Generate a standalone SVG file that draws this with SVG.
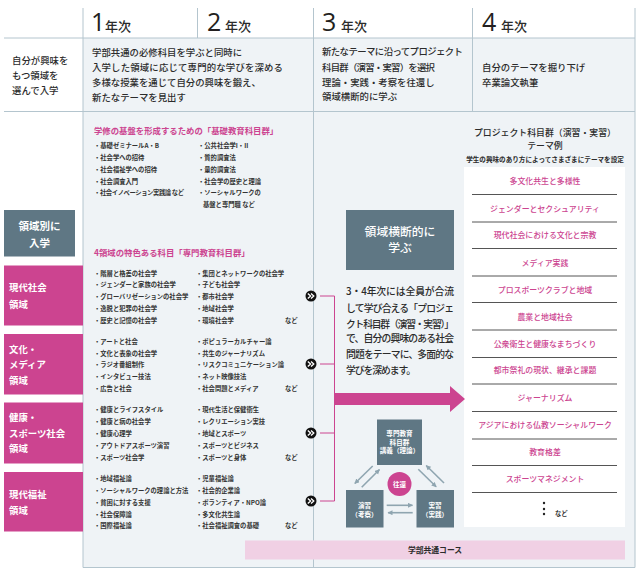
<svg xmlns="http://www.w3.org/2000/svg" width="640" height="573" viewBox="0 0 640 573">
<defs>
<style>
text{font-family:"Noto Sans CJK JP","Noto Sans",sans-serif;fill:#2b2b2b;font-weight:500}
.g{stroke:#b4c5ce;stroke-width:1;fill:none}
.num{font-family:"Open Sans","Liberation Sans",sans-serif;font-size:25px;font-weight:400;fill:#231f20}
.yr{font-size:13px}
.b{font-size:9.4px}
.s{font-size:6.3px;font-weight:700;fill:#333}
.h{font-size:8.4px;fill:#cc4490;font-weight:700}
.t{font-size:7.9px;fill:#cc4490;text-anchor:middle}
.w{fill:#fff;font-weight:700;font-size:9.4px}
.m{text-anchor:middle}
.d{fill:#fff;font-size:6.6px;font-weight:700;text-anchor:middle}
.p{font-size:9.8px;font-weight:500}
.pink{fill:#cc4490}
.slate{fill:#5f7784}
.rule{stroke:#555;stroke-width:1}
.ar{stroke:#8fa5b0;stroke-width:1.6;fill:none;marker-end:url(#ah)}
.ln{stroke:#cc4490;stroke-width:1;fill:none}
</style>
<marker id="ah" markerWidth="6" markerHeight="6" refX="4.5" refY="2.5" orient="auto" markerUnits="userSpaceOnUse"><path d="M0 0L5 2.5L0 5Z" fill="#8fa5b0"/></marker>
<g id="chev"><circle r="5.5" fill="#111"/><path d="M-3.2 -2.6L-0.4 0L-3.2 2.6M0 -2.6L2.8 0L0 2.6" stroke="#fff" stroke-width="1.3" fill="none"/></g>
</defs>

<rect x="83" y="38" width="552" height="529.5" fill="#eff3f6"/>
<g id="grid">
<path class="g" d="M4 38H635M4 111.5H635M83 8V567.5H635M197.5 8V38M313.5 8V567.5M472.5 8V111.5M635 8V567.5"/>
</g>

<g id="headers">
<text class="num" x="91" y="31">1</text><text class="yr" x="105" y="31">年次</text>
<text class="num" x="207" y="31">2</text><text class="yr" x="225" y="31">年次</text>
<text class="num" x="322" y="31">3</text><text class="yr" x="341" y="31">年次</text>
<text class="num" x="482" y="31">4</text><text class="yr" x="501" y="31">年次</text>
</g>

<g id="row-intro">
<text class="b" x="12" y="63.5">自分が興味を</text><text class="b" x="12" y="78.5">もつ領域を</text><text class="b" x="12" y="93.5">選んで入学</text>
<text class="b" x="92" y="55.5">学部共通の必修科目を学ぶと同時に</text>
<text class="b" x="92" y="71" textLength="191">入学した領域に応じて専門的な学びを深める</text>
<text class="b" x="92" y="86">多様な授業を通じて自分の興味を鍛え、</text>
<text class="b" x="92" y="101">新たなテーマを見出す</text>
<text class="b" x="322" y="55" textLength="141">新たなテーマに沿ってプロジェクト</text>
<text class="b" x="322" y="71" textLength="113">科目群（演習・実習）を選択</text>
<text class="b" x="322" y="86">理論・実践・考察を往還し</text>
<text class="b" x="322" y="100">領域横断的に学ぶ</text>
<text class="b" x="482" y="71">自分のテーマを掘り下げ</text>
<text class="b" x="482" y="86">卒業論文執筆</text>
</g>

<g id="basic-courses">
<text class="h" x="94" y="134">学修の基盤を形成するための「基礎教育科目群」</text>
<text class="s" x="94" y="147.5">・基礎ゼミナールA・B</text>
<text class="s" x="94" y="159.5">・社会学への招待</text>
<text class="s" x="94" y="171.5">・社会福祉学への招待</text>
<text class="s" x="94" y="183.5">・社会調査入門</text>
<text class="s" x="94" y="194.5" textLength="90">・社会イノベーション実践論 など</text>
<text class="s" x="198" y="147.5">・公共社会学I・II</text>
<text class="s" x="198" y="159.5">・質的調査法</text>
<text class="s" x="198" y="171.5">・量的調査法</text>
<text class="s" x="198" y="183.5">・社会学の歴史と理論</text>
<text class="s" x="198" y="194.5">・ソーシャルワークの</text>
<text class="s" x="203" y="206.5">基盤と専門職 など</text>
</g>

<g id="specialized-courses">
<text class="h" x="94" y="256">4領域の特色ある科目「専門教育科目群」</text>
<text class="s" x="94" y="275.5">・階層と格差の社会学</text>
<text class="s" x="94" y="286.5">・ジェンダーと家族の社会学</text>
<text class="s" x="94" y="298.5">・グローバリゼーションの社会学</text>
<text class="s" x="94" y="310.5">・逸脱と犯罪の社会学</text>
<text class="s" x="94" y="322.5">・歴史と記憶の社会学</text>
<text class="s" x="196" y="275.5">・集団とネットワークの社会学</text>
<text class="s" x="196" y="286.5">・子ども社会学</text>
<text class="s" x="196" y="298.5">・都市社会学</text>
<text class="s" x="196" y="310.5">・地域社会学</text>
<text class="s" x="196" y="322.5">・環境社会学</text>
<text class="s" x="285" y="322.5">など</text>

<text class="s" x="94" y="343.5">・アートと社会</text>
<text class="s" x="94" y="355.5">・文化と表象の社会学</text>
<text class="s" x="94" y="366.5">・ラジオ番組制作</text>
<text class="s" x="94" y="378.5">・インタビュー技法</text>
<text class="s" x="94" y="390.5">・広告と社会</text>
<text class="s" x="196" y="343.5">・ポピュラーカルチャー論</text>
<text class="s" x="196" y="355.5">・共生のジャーナリズム</text>
<text class="s" x="196" y="366.5">・リスクコミュニケーション論</text>
<text class="s" x="196" y="378.5">・ネット映像技法</text>
<text class="s" x="196" y="390.5">・社会問題とメディア</text>
<text class="s" x="285" y="390.5">など</text>

<text class="s" x="94" y="412">・健康とライフスタイル</text>
<text class="s" x="94" y="424">・健康と病の社会学</text>
<text class="s" x="94" y="435.5">・健康心理学</text>
<text class="s" x="94" y="447.5">・アウトドアスポーツ演習</text>
<text class="s" x="94" y="459.5">・スポーツ社会学</text>
<text class="s" x="196" y="412">・現代生活と保健衛生</text>
<text class="s" x="196" y="424">・レクリエーション実技</text>
<text class="s" x="196" y="435.5">・地域とスポーツ</text>
<text class="s" x="196" y="447.5">・スポーツとビジネス</text>
<text class="s" x="196" y="459.5">・スポーツと身体</text>
<text class="s" x="285" y="459.5">など</text>

<text class="s" x="94" y="480.5">・地域福祉論</text>
<text class="s" x="94" y="492.5">・ソーシャルワークの理論と方法</text>
<text class="s" x="94" y="504.5">・貧困に対する支援</text>
<text class="s" x="94" y="516.5">・社会保障論</text>
<text class="s" x="94" y="528">・国際福祉論</text>
<text class="s" x="196" y="480.5">・児童福祉論</text>
<text class="s" x="196" y="492.5">・社会的企業論</text>
<text class="s" x="196" y="504.5">・ボランティア・NPO論</text>
<text class="s" x="196" y="516.5">・多文化共生論</text>
<text class="s" x="196" y="528">・社会福祉調査の基礎</text>
<text class="s" x="285" y="528">など</text>
</g>

<g id="entry">
<rect class="slate" x="4" y="210" width="71" height="46.5"/>
<text class="w m" x="39.5" y="230" style="font-size:10.5px">領域別に</text>
<text class="w m" x="39.5" y="247" style="font-size:10.5px">入学</text>
</g>
<g id="area-society">
<rect class="pink" x="4" y="265.5" width="79" height="60"/>
<text class="w" x="9" y="291">現代社会</text><text class="w" x="9" y="307.5">領域</text>
</g>
<g id="area-culture">
<rect class="pink" x="4" y="334" width="79" height="60.5"/>
<text class="w" x="9" y="352.5">文化・</text><text class="w" x="9" y="367.5">メディア</text><text class="w" x="9" y="384">領域</text>
</g>
<g id="area-health">
<rect class="pink" x="4" y="402.5" width="79" height="61"/>
<text class="w" x="9" y="420.5">健康・</text><text class="w" x="9" y="437">スポーツ社会</text><text class="w" x="9" y="452">領域</text>
</g>
<g id="area-welfare">
<rect class="pink" x="4" y="472" width="79" height="59.5"/>
<text class="w" x="9" y="498">現代福祉</text><text class="w" x="9" y="513.5">領域</text>
</g>

<g id="common-course">
<rect x="245" y="540.5" width="380" height="19" fill="#f0d0e4"/>
<text class="m" x="435" y="553" style="font-size:7.8px;font-weight:700">学部共通コース</text>
</g>

<g id="cross-domain">
<rect class="slate" x="346" y="210" width="108" height="60"/>
<text class="w m" x="400" y="236" style="font-size:11.8px;font-weight:500">領域横断的に</text>
<text class="w m" x="400" y="252" style="font-size:11.8px;font-weight:500">学ぶ</text>
<text class="p" x="346" y="295" textLength="108">3・4年次には全員が合流</text>
<text class="p" x="346" y="311.5" textLength="108">して学び合える「プロジェ</text>
<text class="p" x="346" y="327.5" textLength="108">クト科目群（演習・実習）」</text>
<text class="p" x="346" y="341.5" textLength="108">で、自分の興味のある社会</text>
<text class="p" x="346" y="357.5" textLength="108">問題をテーマに、多面的な</text>
<text class="p" x="346" y="373.5" textLength="70">学びを深めます。</text>
</g>

<g id="themes">
<text class="m" x="545" y="136" style="font-size:8.9px">プロジェクト科目群（演習・実習）</text>
<text class="m" x="545" y="149" style="font-size:8.9px">テーマ例</text>
<text class="m" x="545" y="162" style="font-size:6.6px;font-weight:700">学生の興味のあり方によってさまざまにテーマを設定</text>
<rect x="464" y="167" width="161" height="360" fill="#fff"/>
<path class="rule" d="M472 194.5H617M472 222H617M472 248.5H617M472 276H617M472 302.5H617M472 330H617M472 357.5H617M472 384H617M472 411.5H617M472 439H617M472 465.5H617M472 492.5H617"/>
<text class="t" x="545" y="184">多文化共生と多様性</text>
<text class="t" x="545" y="211.5">ジェンダーとセクシュアリティ</text>
<text class="t" x="545" y="238">現代社会における文化と宗教</text>
<text class="t" x="545" y="265.5">メディア実践</text>
<text class="t" x="545" y="293">プロスポーツクラブと地域</text>
<text class="t" x="545" y="319.5">農業と地域社会</text>
<text class="t" x="545" y="347">公衆衛生と健康なまちづくり</text>
<text class="t" x="545" y="373">都市祭礼の現状、継承と課題</text>
<text class="t" x="545" y="401">ジャーナリズム</text>
<text class="t" x="545" y="428">アジアにおける仏教ソーシャルワーク</text>
<text class="t" x="545" y="455">教育格差</text>
<text class="t" x="545" y="482">スポーツマネジメント</text>
<circle cx="544" cy="503" r="1.2" fill="#222"/><circle cx="544" cy="509" r="1.2" fill="#222"/><circle cx="544" cy="514" r="1.2" fill="#222"/>
<text class="s" x="555" y="515.5">など</text>
</g>

<g id="node-lecture">
<rect class="slate" x="377" y="419.5" width="45" height="45.5"/>
<text class="d" x="399.5" y="436">専門教育</text><text class="d" x="399.5" y="444.5">科目群</text><text class="d" x="399.5" y="453">講義（理論）</text>
</g>
<g id="node-seminar">
<rect class="slate" x="346" y="490" width="37.5" height="37.5"/>
<text class="d" x="364.5" y="507.5">演習</text><text class="d" x="364.5" y="516.5">（考察）</text>
</g>
<g id="node-practice">
<rect class="slate" x="416.5" y="490" width="37.5" height="37.5"/>
<text class="d" x="435" y="507.5">実習</text><text class="d" x="435" y="516.5">（実践）</text>
</g>
<g id="node-exchange">
<circle class="pink" cx="399.5" cy="484" r="12"/>
<text class="d" x="399.5" y="486.5">往還</text>
</g>

<g id="connectors">
<path class="ln" d="M320 296H334.5M320 364H334.5M320 433H334.5M320 501H334.5M334.5 296V501"/>
<path class="pink" d="M334 393H450V386L465 399L450 412V405H334Z"/>
<use href="#chev" x="311" y="296"/>
<use href="#chev" x="311" y="364"/>
<use href="#chev" x="311" y="433"/>
<use href="#chev" x="311" y="501"/>
<path class="ar" d="M372.7 466L354.8 483.5"/>
<path class="ar" d="M361.7 487.3L379.5 469.5"/>
<path class="ar" d="M418.3 469.3L436.2 486.8"/>
<path class="ar" d="M444 483L426.2 465.5"/>
<path class="ar" d="M386.7 505.3H412.5"/>
<path class="ar" d="M412.7 512.7H388"/>
</g>
</svg>
